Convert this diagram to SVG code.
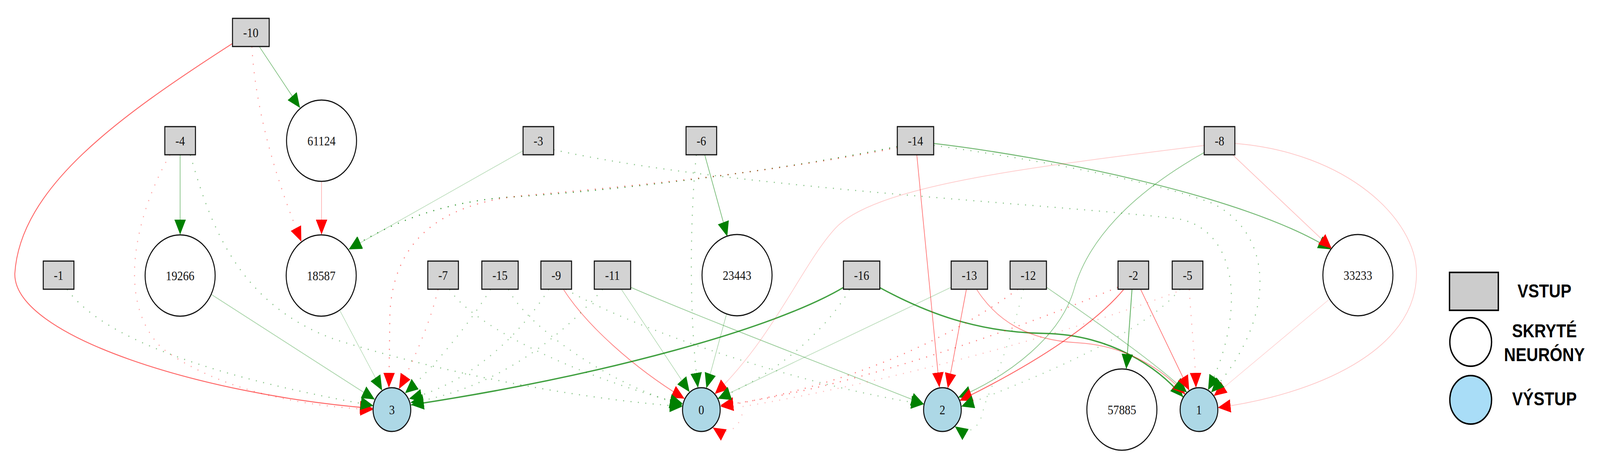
<svg xmlns="http://www.w3.org/2000/svg" width="4752" height="1200" viewBox="0 0 4752 1200" preserveAspectRatio="none" style="width:100vw;height:100vh;display:block">
<defs>
<style>
.box{fill:#d3d3d3;stroke:#111;stroke-width:3}
.hid{fill:#fff;stroke:#111;stroke-width:3}
.out{fill:#add8e6;stroke:#111;stroke-width:3}
.lbl{font-family:"Liberation Serif","Times New Roman",serif;font-size:34px;text-anchor:middle;fill:#111}
.e{fill:none}
.g{stroke:#008000}
.r{stroke:#ff0000}
.g.m{marker-end:url(#aG)}
.r.m{marker-end:url(#aR)}
.dot{stroke-dasharray:3 19;stroke-width:3}
.lg text{font-family:"Liberation Sans",Arial,sans-serif;font-weight:bold;font-size:48px;text-anchor:middle;fill:#000}
</style>
<marker id="aG" markerUnits="userSpaceOnUse" markerWidth="38" markerHeight="34" viewBox="0 0 38 34" refX="38" refY="17" orient="auto"><path d="M0,0 L38,17 L0,34 Z" fill="#008000"/></marker>
<marker id="aR" markerUnits="userSpaceOnUse" markerWidth="38" markerHeight="34" viewBox="0 0 38 34" refX="38" refY="17" orient="auto"><path d="M0,0 L38,17 L0,34 Z" fill="#ff0000"/></marker>
</defs>
<rect width="4752" height="1200" fill="#fff"/>
<g id="edges">
<path class="e g m" stroke-width="2" stroke-opacity="0.5" d="M770,119 L891,276"/>
<path class="e r m" stroke-width="2.5" stroke-opacity="0.6" d="M691,111 C350,300 60,480 44,700 C40,860 600,1010 1107,1045"/>
<path class="e r m" stroke-width="2" stroke-opacity="0.3" d="M955,465 L955,600"/>
<path class="e g m" stroke-width="2" stroke-opacity="0.5" d="M535,396 L535,600"/>
<path class="e g m" stroke-width="2" stroke-opacity="0.35" d="M627,753 L1113,1022"/>
<path class="e g m" stroke-width="1.5" stroke-opacity="0.3" d="M1009,794 L1135,999"/>
<path class="e g m" stroke-width="1.5" stroke-opacity="0.3" d="M1553,386 L1036,638"/>
<path class="e g m" stroke-width="2" stroke-opacity="0.55" d="M2093,396 L2160,605"/>
<path class="e g m" stroke-width="1.5" stroke-opacity="0.4" d="M2158,803 L2098,993"/>
<path class="e r m" stroke-width="2" stroke-opacity="0.5" d="M1674,741 C1740,830 1880,940 2033,1020"/>
<path class="e g m" stroke-width="1.5" stroke-opacity="0.35" d="M1846,741 L2048,1003"/>
<path class="e g m" stroke-width="2" stroke-opacity="0.4" d="M1873,735 C2100,820 2500,950 2744,1034"/>
<path class="e g m" stroke-width="3.5" stroke-opacity="0.75" d="M2504,736 C2300,840 1800,960 1221,1036"/>
<path class="e g m" stroke-width="3.5" stroke-opacity="0.75" d="M2613,736 C2750,800 2900,850 3100,853 C3300,856 3440,940 3514,1016"/>
<path class="e r m" stroke-width="2" stroke-opacity="0.45" d="M2901,741 C2960,820 3050,870 3200,877 C3350,884 3460,950 3520,1009"/>
<path class="e r m" stroke-width="2" stroke-opacity="0.55" d="M2870,741 L2815,993"/>
<path class="e r m" stroke-width="2" stroke-opacity="0.55" d="M2723,397 L2790,991"/>
<path class="e g m" stroke-width="2.5" stroke-opacity="0.55" d="M2773,367 C3100,400 3700,500 3953,638"/>
<path class="e r m" stroke-width="2" stroke-opacity="0.25" d="M3662,397 L3955,636"/>
<path class="e r m" stroke-width="2" stroke-opacity="0.22" d="M3668,367 C4000,390 4207,560 4207,700 C4207,900 3900,1010 3617,1043"/>
<path class="e r m" stroke-width="2" stroke-opacity="0.2" d="M3577,372 C3100,425 2600,470 2480,585 C2380,680 2300,860 2123,1008"/>
<path class="e g m" stroke-width="2" stroke-opacity="0.45" d="M3577,390 C3350,500 3230,620 3190,740 C3150,860 3000,960 2846,1017"/>
<path class="e g m" stroke-width="2" stroke-opacity="0.25" d="M2825,735 L2132,1020"/>
<path class="e g m" stroke-width="2" stroke-opacity="0.4" d="M3108,735 C3250,820 3420,920 3525,1004"/>
<path class="e g m" stroke-width="2.5" stroke-opacity="0.6" d="M3362,741 L3345,944"/>
<path class="e r m" stroke-width="2" stroke-opacity="0.55" d="M3388,741 L3532,999"/>
<path class="e r m" stroke-width="2.5" stroke-opacity="0.6" d="M3337,741 C3260,820 3100,920 2850,1025"/>
<path class="e r m" stroke-width="1.5" stroke-opacity="0.2" d="M3949,765 L3605,1013"/>
<path class="e r m dot" stroke-opacity="0.4" d="M748,119 C760,300 830,480 895,618"/>
<path class="e r m dot" stroke-opacity="0.35" d="M505,396 C420,520 330,760 480,890 C650,1000 900,1040 1108,1048"/>
<path class="e g m dot" stroke-opacity="0.45" d="M565,396 C620,560 700,780 1000,870 C1300,950 1700,1020 2027,1040"/>
<path class="e g m dot" stroke-opacity="0.45" d="M199,740 C300,860 600,960 1109,1038"/>
<path class="e g m dot" stroke="#3f7f3f" stroke-width="4" stroke-opacity="0.75" d="M2665,375 C2300,440 1800,490 1500,505 C1300,520 1150,575 1036,638"/>
<path class="e r m dot" stroke-opacity="0.5" d="M2665,378 C2300,440 1900,475 1560,500 C1300,520 1170,620 1158,800 L1155,992"/>
<path class="e r m dot" stroke-opacity="0.4" d="M1301,740 C1280,820 1230,920 1185,995"/>
<path class="e g m dot" stroke-opacity="0.4" d="M1335,740 C1400,830 1700,960 2028,1033"/>
<path class="e g m dot" stroke-opacity="0.4" d="M1457,740 C1400,820 1300,930 1203,1006"/>
<path class="e g m dot" stroke-opacity="0.4" d="M1510,740 C1560,830 1800,980 2027,1037"/>
<path class="e g m dot" stroke-opacity="0.4" d="M1630,740 C1550,850 1400,980 1215,1020"/>
<path class="e g m dot" stroke-opacity="0.4" d="M1790,740 C1650,880 1450,1000 1219,1030"/>
<path class="e g m dot" stroke-opacity="0.45" d="M2068,396 C2050,550 2045,800 2073,992"/>
<path class="e g m dot" stroke-opacity="0.45" d="M1644,383 C2150,480 3100,520 3500,560 C3680,590 3700,800 3588,998"/>
<path class="e g m dot" stroke-opacity="0.45" d="M2773,372 C3100,410 3450,470 3600,520 C3790,600 3790,820 3597,1004"/>
<path class="e r m dot" stroke-opacity="0.3" d="M3532,740 C3540,850 3550,920 3552,992"/>
<path class="e r m dot" stroke-opacity="0.5" d="M3320,735 C3000,850 2500,1000 2140,1037"/>
<path class="e r m dot" stroke-opacity="0.5" d="M3023,740 C2800,880 2500,990 2140,1040"/>
<path class="e g m dot" stroke-opacity="0.35" d="M3505,740 C3400,850 3100,960 2855,1040"/>
<path class="e g m dot" stroke-opacity="0.3" d="M3040,740 C3000,880 2950,980 2922,1040 C2915,1090 2880,1120 2836,1091"/>
<path class="e r m dot" stroke-opacity="0.25" d="M3515,740 C3100,880 2500,1000 2207,1040 C2207,1080 2170,1125 2117,1094"/>
<path class="e g m dot" stroke-opacity="0.4" d="M2523,741 C2450,850 2300,960 2132,1020"/>
<path class="e g m dot" stroke-opacity="0.4" d="M1680,740 C1900,850 2400,990 2744,1034"/>
</g>
<g id="n-10"><rect class="box" x="690.5" y="47" width="109" height="72"/><text class="lbl" x="745" y="95">-10</text></g>
<g id="n-4"><rect class="box" x="489.5" y="324" width="91" height="72"/><text class="lbl" x="535" y="372">-4</text></g>
<g id="n-3"><rect class="box" x="1553.5" y="324" width="91" height="72"/><text class="lbl" x="1599" y="372">-3</text></g>
<g id="n-6"><rect class="box" x="2037.5" y="324" width="91" height="72"/><text class="lbl" x="2083" y="372">-6</text></g>
<g id="n-14"><rect class="box" x="2665" y="324" width="108" height="72"/><text class="lbl" x="2719" y="372">-14</text></g>
<g id="n-8"><rect class="box" x="3576.5" y="324" width="91" height="72"/><text class="lbl" x="3622" y="372">-8</text></g>
<g id="n-1"><rect class="box" x="128.5" y="668" width="91" height="72"/><text class="lbl" x="174" y="716">-1</text></g>
<g id="n-7"><rect class="box" x="1270.5" y="668" width="91" height="72"/><text class="lbl" x="1316" y="716">-7</text></g>
<g id="n-15"><rect class="box" x="1431" y="668" width="108" height="72"/><text class="lbl" x="1485" y="716">-15</text></g>
<g id="n-9"><rect class="box" x="1606.5" y="668" width="91" height="72"/><text class="lbl" x="1652" y="716">-9</text></g>
<g id="n-11"><rect class="box" x="1765" y="668" width="108" height="72"/><text class="lbl" x="1819" y="716">-11</text></g>
<g id="n-16"><rect class="box" x="2505" y="668" width="108" height="72"/><text class="lbl" x="2559" y="716">-16</text></g>
<g id="n-13"><rect class="box" x="2825" y="668" width="108" height="72"/><text class="lbl" x="2879" y="716">-13</text></g>
<g id="n-12"><rect class="box" x="3000" y="668" width="108" height="72"/><text class="lbl" x="3054" y="716">-12</text></g>
<g id="n-2"><rect class="box" x="3320.5" y="668" width="91" height="72"/><text class="lbl" x="3366" y="716">-2</text></g>
<g id="n-5"><rect class="box" x="3481.5" y="668" width="91" height="72"/><text class="lbl" x="3527" y="716">-5</text></g>
<g id="n61124"><circle class="hid" cx="955" cy="360" r="104"/><text class="lbl" x="955" y="372">61124</text></g>
<g id="n19266"><circle class="hid" cx="535" cy="705" r="104"/><text class="lbl" x="535" y="717">19266</text></g>
<g id="n18587"><circle class="hid" cx="954" cy="705" r="104"/><text class="lbl" x="954" y="717">18587</text></g>
<g id="n23443"><circle class="hid" cx="2189" cy="704" r="104"/><text class="lbl" x="2189" y="716">23443</text></g>
<g id="n33233"><circle class="hid" cx="4033" cy="704" r="104"/><text class="lbl" x="4033" y="716">33233</text></g>
<g id="n57885"><circle class="hid" cx="3332" cy="1048" r="104"/><text class="lbl" x="3332" y="1060">57885</text></g>
<g id="n3"><circle class="out" cx="1164" cy="1048" r="56"/><text class="lbl" x="1164" y="1060">3</text></g>
<g id="n0"><circle class="out" cx="2083" cy="1048" r="56"/><text class="lbl" x="2083" y="1060">0</text></g>
<g id="n2"><circle class="out" cx="2799" cy="1048" r="56"/><text class="lbl" x="2799" y="1060">2</text></g>
<g id="n1"><circle class="out" cx="3561" cy="1048" r="56"/><text class="lbl" x="3561" y="1060">1</text></g>
<g id="legend" class="lg">
<rect x="4305" y="697" width="145" height="97" fill="#cccccc" stroke="#000" stroke-width="4"/>
<circle cx="4368" cy="875" r="62" fill="#fff" stroke="#000" stroke-width="4"/>
<circle cx="4368" cy="1023" r="62" fill="#a9ddf7" stroke="#000" stroke-width="4"/>
<text x="4587" y="761">VSTUP</text>
<text x="4587" y="863">SKRYTÉ</text>
<text x="4587" y="924">NEURÓNY</text>
<text x="4587" y="1037">VÝSTUP</text>
</g>
</svg>
